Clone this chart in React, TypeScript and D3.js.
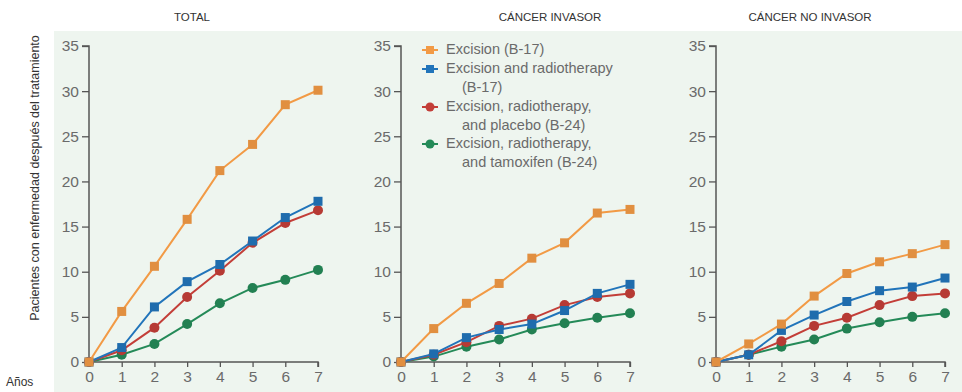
import React, { useEffect, useRef } from "react";
import * as d3 from "d3";

// years on the x axis
const years = [0, 1, 2, 3, 4, 5, 6, 7];
const yTicks = [0, 5, 10, 15, 20, 25, 30, 35];

const panelTitles = ["TOTAL", "CÁNCER INVASOR", "CÁNCER NO INVASOR"];

const seriesNames = [
  ["Excision (B-17)"],
  ["Excision and radiotherapy", "(B-17)"],
  ["Excision, radiotherapy,", "and placebo (B-24)"],
  ["Excision, radiotherapy,", "and tamoxifen (B-24)"],
];
const seriesColors = ["#f29a45", "#2174ba", "#c33e38", "#248a58"];
const seriesShapes = ["square", "square", "circle", "circle"];

// TOTAL
const totalExcision = [0, 5.6, 10.6, 15.8, 21.2, 24.1, 28.5, 30.1];
const totalRadio = [0, 1.6, 6.1, 8.9, 10.8, 13.4, 16.0, 17.8];
const totalPlacebo = [0, 1.3, 3.8, 7.2, 10.1, 13.2, 15.4, 16.8];
const totalTamoxifen = [0, 0.8, 2.0, 4.2, 6.5, 8.2, 9.1, 10.2];

// CÁNCER INVASOR
const invExcision = [0, 3.7, 6.5, 8.7, 11.5, 13.2, 16.5, 16.9];
const invRadio = [0, 0.9, 2.7, 3.6, 4.2, 5.7, 7.6, 8.6];
const invPlacebo = [0, 0.8, 2.2, 4.0, 4.8, 6.3, 7.2, 7.6];
const invTamoxifen = [0, 0.6, 1.7, 2.5, 3.6, 4.3, 4.9, 5.4];

// CÁNCER NO INVASOR
const noInvExcision = [0, 2.0, 4.2, 7.3, 9.8, 11.1, 12.0, 13.0];
const noInvRadio = [0, 0.8, 3.5, 5.2, 6.7, 7.9, 8.3, 9.3];
const noInvPlacebo = [0, 0.8, 2.3, 4.0, 4.9, 6.3, 7.3, 7.6];
const noInvTamoxifen = [0, 0.8, 1.7, 2.5, 3.7, 4.4, 5.0, 5.4];

const panelData = [
  [totalExcision, totalRadio, totalPlacebo, totalTamoxifen],
  [invExcision, invRadio, invPlacebo, invTamoxifen],
  [noInvExcision, noInvRadio, noInvPlacebo, noInvTamoxifen],
];

const W = 962;
const H = 392;

export default function App() {
  const ref = useRef<SVGSVGElement>(null);

  useEffect(() => {
    const svg = d3.select(ref.current);
    svg.selectAll("*").remove();

    const font = "'Liberation Sans', Arial, sans-serif";

    // light green background
    svg.append("rect")
      .attr("x", 54).attr("y", 31)
      .attr("width", W - 54).attr("height", H - 31)
      .attr("fill", "#eef5ef");

    const axisLeft = [89, 401, 716];
    const panelW = 229;
    const titleX = [192, 550, 810];

    const y = d3.scaleLinear().domain([0, 35]).range([362, 46]);

    panelData.forEach((series, p) => {
      const x = d3.scaleLinear().domain([0, 7]).range([axisLeft[p], axisLeft[p] + panelW]);
      const g = svg.append("g");

      // title
      svg.append("text")
        .attr("x", titleX[p]).attr("y", 21)
        .attr("text-anchor", "middle")
        .attr("font-family", font).attr("font-size", 11.5)
        .attr("fill", "#333")
        .text(panelTitles[p]);

      // y axis
      const ya = g.append("g")
        .attr("transform", `translate(${axisLeft[p]},0)`)
        .call(d3.axisLeft(y).tickValues(yTicks).tickFormat(d3.format("d")).tickSize(7).tickPadding(3));
      // x axis
      const xa = g.append("g")
        .attr("transform", `translate(0,${y(0)})`)
        .call(d3.axisBottom(x).tickValues(years).tickFormat(d3.format("d")).tickSize(5).tickPadding(4));

      [ya, xa].forEach(a => {
        a.select(".domain").attr("stroke", "#555").attr("stroke-width", 1.5);
        a.selectAll(".tick line").attr("stroke", "#555").attr("stroke-width", 1.3);
        a.selectAll(".tick text")
          .attr("fill", "#6a6a6a")
          .attr("font-family", font)
          .attr("font-size", 15.5);
      });
      ya.select(".domain").attr("d", `M-7,${y(35)}H0V${y(0)}`);
      xa.select(".domain").attr("d", `M${x(0)},0H${x(7)}V5`);

      const line = d3.line<number>()
        .x((_, i) => x(years[i]))
        .y(d => y(d));

      // draw lowest series first so orange sits on top
      [3, 2, 1, 0].forEach(s => {
        const vals = series[s];
        g.append("path")
          .attr("d", line(vals))
          .attr("fill", "none")
          .attr("stroke", seriesColors[s])
          .attr("stroke-width", 2);
        const col = d3.color(seriesColors[s])!.darker(0.2).toString();
        if (seriesShapes[s] === "square") {
          g.selectAll(null).data(vals).enter().append("rect")
            .attr("x", (_, i) => x(years[i]) - 4.5)
            .attr("y", d => y(d) - 4.5)
            .attr("width", 9).attr("height", 9)
            .attr("fill", col);
        } else {
          g.selectAll(null).data(vals).enter().append("circle")
            .attr("cx", (_, i) => x(years[i]))
            .attr("cy", d => y(d))
            .attr("r", 5)
            .attr("fill", col);
        }
      });
    });

    // legend in middle panel
    const lg = svg.append("g").attr("font-family", font).attr("font-size", 14.5).attr("fill", "#6a6a6a");
    const legendRows = [54, 73, 111, 148];
    seriesNames.forEach((lines, s) => {
      const ly = legendRows[s];
      lg.append("line")
        .attr("x1", 422).attr("x2", 438)
        .attr("y1", ly - 4).attr("y2", ly - 4)
        .attr("stroke", seriesColors[s]).attr("stroke-width", 2);
      if (seriesShapes[s] === "square") {
        lg.append("rect").attr("x", 426).attr("y", ly - 8)
          .attr("width", 8).attr("height", 8).attr("fill", seriesColors[s]);
      } else {
        lg.append("circle").attr("cx", 430).attr("cy", ly - 4)
          .attr("r", 4.5).attr("fill", seriesColors[s]);
      }
      lines.forEach((t, k) => {
        lg.append("text")
          .attr("x", k === 0 ? 446 : 462)
          .attr("y", ly + 19 * k)
          .text(t);
      });
    });

    // axis titles
    svg.append("text")
      .attr("transform", "translate(39,178) rotate(-90)")
      .attr("text-anchor", "middle")
      .attr("font-family", font).attr("font-size", 12.5)
      .attr("fill", "#333")
      .text("Pacientes con enfermedad después del tratamiento");

    svg.append("text")
      .attr("x", 6).attr("y", 386)
      .attr("font-family", font).attr("font-size", 12)
      .attr("fill", "#333")
      .text("Años");
  }, []);

  return (
    <svg ref={ref} width={W} height={H}
      style={{ position: "absolute", left: 0, top: 0, background: "#fff" }} />
  );
}
